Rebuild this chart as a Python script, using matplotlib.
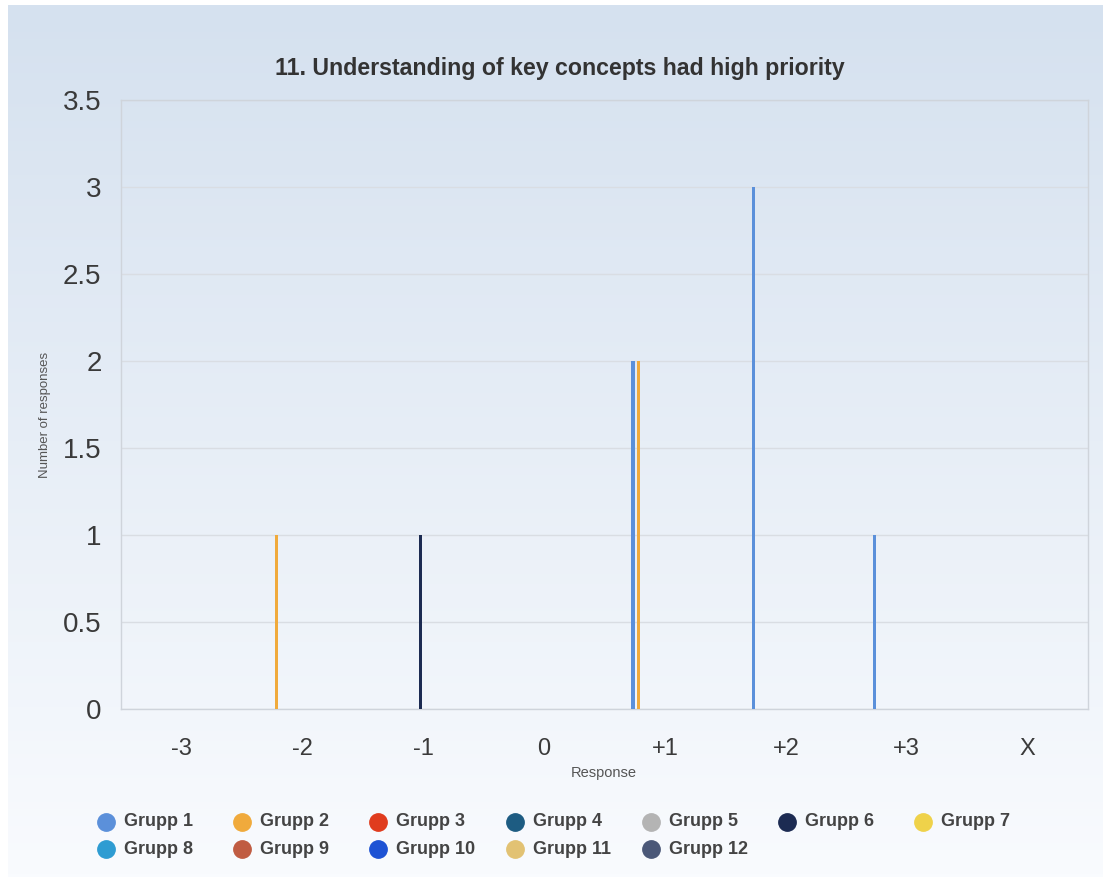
import numpy as np
import matplotlib.pyplot as plt

# Responses per scale step for each group
categories = ["-3", "-2", "-1", "0", "+1", "+2", "+3", "X"]
groups = ["Grupp %d" % k for k in range(1, 13)]
counts = [
    [0, 0, 0, 0, 2, 3, 1, 0],  # Grupp 1
    [0, 1, 0, 0, 2, 0, 0, 0],  # Grupp 2
    [0, 0, 0, 0, 0, 0, 0, 0],  # Grupp 3
    [0, 0, 0, 0, 0, 0, 0, 0],  # Grupp 4
    [0, 0, 0, 0, 0, 0, 0, 0],  # Grupp 5
    [0, 0, 1, 0, 0, 0, 0, 0],  # Grupp 6
    [0, 0, 0, 0, 0, 0, 0, 0],  # Grupp 7
    [0, 0, 0, 0, 0, 0, 0, 0],  # Grupp 8
    [0, 0, 0, 0, 0, 0, 0, 0],  # Grupp 9
    [0, 0, 0, 0, 0, 0, 0, 0],  # Grupp 10
    [0, 0, 0, 0, 0, 0, 0, 0],  # Grupp 11
    [0, 0, 0, 0, 0, 0, 0, 0],  # Grupp 12
]
colors = ["#5b90da", "#f0aa3c", "#e03c1e", "#1d5c82", "#b4b4b4", "#1c2b52",
          "#efd24a", "#2e9cd2", "#c05c42", "#1d52d4", "#e2c273", "#4b5878"]

plt.rcParams['font.family'] = ['Liberation Sans', 'DejaVu Sans']

W, H = 1103, 877
fig = plt.figure(figsize=(W / 100, H / 100), dpi=100)

# background panel with vertical gradient
bg = fig.add_axes([8 / W, 0, 1 - 8 / W, 1 - 5 / H], zorder=-10)
grad = np.linspace(0, 1, 256)[:, None, None]
top = np.array([213, 225, 239]) / 255
bottom = np.array([249, 251, 254]) / 255
img = top + (bottom - top) * grad
bg.imshow(img, aspect='auto', extent=[0, 1, 0, 1])
bg.axis('off')

ax = fig.add_axes([121 / W, 1 - 709 / H, (1088 - 121) / W, (709 - 100) / H])
ax.set_facecolor('none')

x = np.arange(len(categories))
step = 0.048
bar_w = 0.026
for i, vals in enumerate(counts):
    ax.bar(x + (i - 5.5) * step, vals, width=bar_w, color=colors[i], zorder=3)

ax.set_xlim(-0.5, len(categories) - 0.5)
ax.set_ylim(0, 3.5)
ax.set_yticks(np.arange(0, 3.51, 0.5))
ax.set_yticklabels(["0", "0.5", "1", "1.5", "2", "2.5", "3", "3.5"])
ax.set_xticks(x)
ax.set_xticklabels(categories)
ax.tick_params(axis='both', length=0, colors='#3a3a3a')
ax.tick_params(axis='y', labelsize=20, pad=14)
ax.tick_params(axis='x', labelsize=17, pad=21)
ax.grid(axis='y', color='#d9dde3', linewidth=1, zorder=0)
for s in ax.spines.values():
    s.set_color('#cfd4db')
    s.set_linewidth(1)

fig.text(560 / W, 1 - 69 / H, "11. Understanding of key concepts had high priority",
         fontsize=16.7, fontweight='bold', color='#333333', ha='center', va='center')
fig.text(604 / W, 1 - 773 / H, "Response", fontsize=10.5, color='#555555',
         ha='center', va='center')
fig.text(45 / W, 1 - 415 / H, "Number of responses", fontsize=9.5, color='#555555',
         rotation=90, ha='center', va='center')

# legend laid out row by row, seven entries per row
for i, (g, c) in enumerate(zip(groups, colors)):
    row, col = divmod(i, 7)
    mx = 106 + col * 136.2
    my = 822 + row * 27
    fig.lines.append(plt.Line2D([mx / W], [1 - my / H], marker='o', markersize=12.5,
                                markerfacecolor=c, markeredgecolor=c, linestyle='',
                                transform=fig.transFigure))
    fig.text((mx + 18) / W, 1 - my / H, g, fontsize=13, fontweight='bold',
             color='#444444', ha='left', va='center')

fig.savefig("out.png", dpi=100)
